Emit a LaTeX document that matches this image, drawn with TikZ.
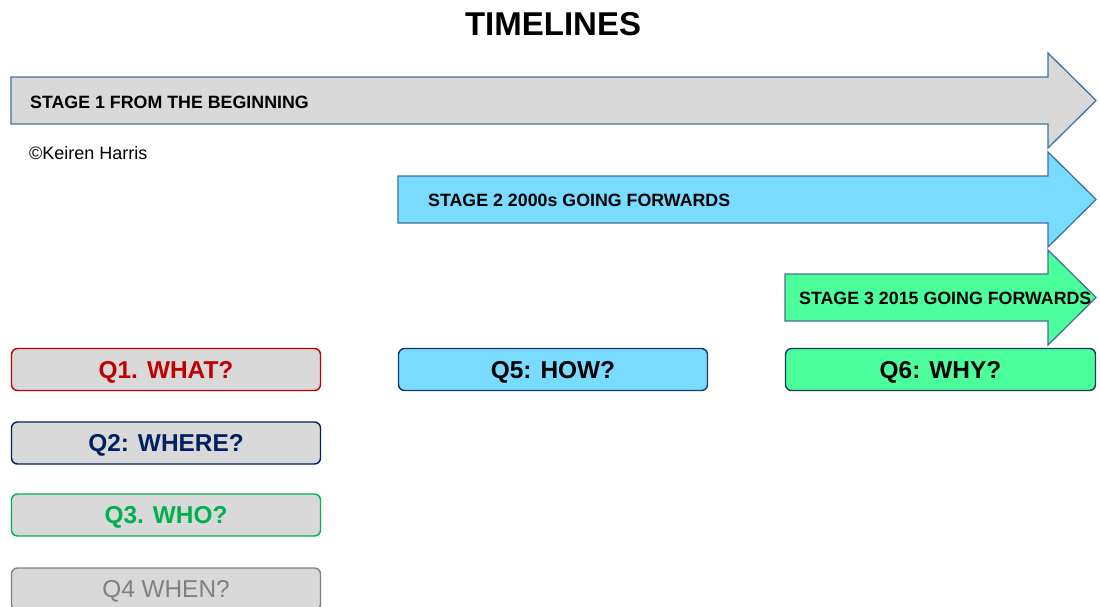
\documentclass[tikz,border=0pt]{standalone}
\usepackage{fontspec}
\setmainfont{Liberation Sans}
\usetikzlibrary{positioning}

\definecolor{edgeblue}{RGB}{65,113,156}
\definecolor{stagegrey}{RGB}{217,217,217}
\definecolor{stageblue}{RGB}{120,219,255}
\definecolor{stagegreen}{RGB}{75,255,155}
\definecolor{qred}{RGB}{192,0,0}
\definecolor{qnavy}{RGB}{0,32,96}
\definecolor{qgreen}{RGB}{0,176,80}
\definecolor{qgrey}{RGB}{128,128,128}
\definecolor{qedge}{RGB}{31,56,100}

\begin{document}
\begin{tikzpicture}[x=1pt,y=-1pt,
  stagearrow/.style={draw=edgeblue,line width=1.3pt,line join=miter},
  stagetext/.style={anchor=west,inner sep=0pt,text height=12.7pt,text depth=0pt,font=\fontsize{17.8}{20}\selectfont\bfseries},
  qbox/.style={draw,line width=1.4pt,rounded corners=6pt,minimum width=309pt,minimum height=42pt,inner sep=0pt,text height=17.5pt,text depth=0pt,font=\fontsize{24.4}{27}\selectfont\bfseries}]
\clip (0,0) rectangle (1100,606);
\fill[white] (0,0) rectangle (1100,606);
\node[font=\fontsize{33}{36}\selectfont\bfseries,text height=23.6pt,text depth=0pt,inner sep=0pt] (title) at (553,23.5) {TIMELINES};
% stage arrows
\draw[stagearrow,fill=stagegrey] (11,77)--(1048,77)--(1048,53)--(1096,100.5)--(1048,148)--(1048,124)--(11,124)--cycle;
\draw[stagearrow,fill=stageblue] (398,176)--(1048,176)--(1048,152)--(1096,199.5)--(1048,247)--(1048,223)--(398,223)--cycle;
\draw[stagearrow,fill=stagegreen] (785,274)--(1048,274)--(1048,250)--(1096,297.5)--(1048,345)--(1048,321)--(785,321)--cycle;
\node[stagetext] (stage1) at (30,102) {STAGE 1 FROM THE BEGINNING};
\node[stagetext] (stage2) at (428,200) {STAGE 2 2000s GOING FORWARDS};
\node[stagetext] (stage3) at (799,298) {STAGE 3 2015 GOING FORWARDS};
\node[anchor=west,inner sep=0pt,text height=12.9pt,text depth=0pt,font=\fontsize{18}{20}\selectfont] (copy) at (29,153.5) {©Keiren Harris};
% questions
\node[qbox,draw=qred,fill=stagegrey,text=qred] (q1) at (166,369.5) {Q1. WHAT?};
\node[qbox,draw=qnavy,fill=stagegrey,text=qnavy] (q2) at (166,443) {Q2: WHERE?};
\node[qbox,draw=qgreen,fill=stagegrey,text=qgreen] (q3) at (166,515) {Q3. WHO?};
\node[qbox,draw=qgrey,fill=stagegrey,text=qgrey,font=\fontsize{24.4}{27}\selectfont] (q4) at (166,589) {Q4 WHEN?};
\node[qbox,draw=qedge,fill=stageblue] (q5) at (553,369.5) {Q5: HOW?};
\node[qbox,draw=qedge,fill=stagegreen,minimum width=310pt] (q6) at (940.5,369.5) {Q6: WHY?};
\end{tikzpicture}
\end{document}
